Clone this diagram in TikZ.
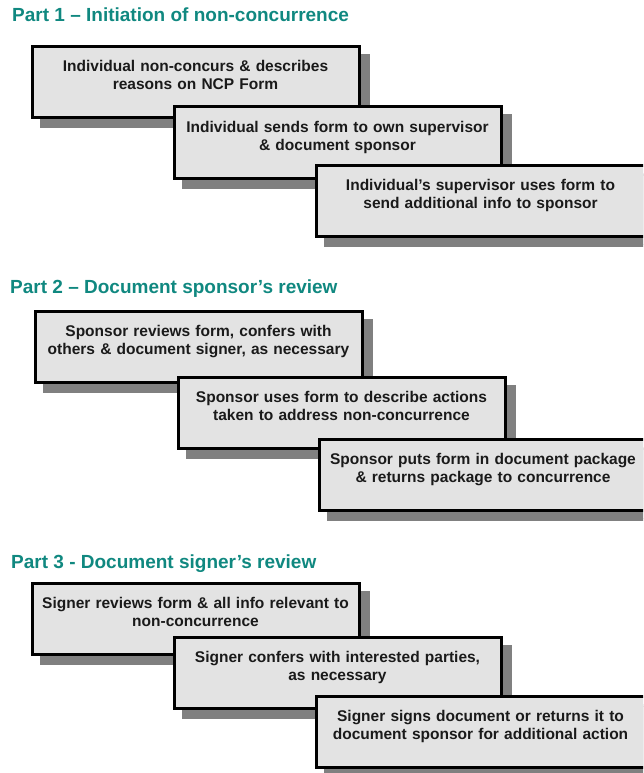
\documentclass[tikz,border=0pt]{standalone}
\usepackage{fontspec}
\setmainfont{Liberation Sans}
\usetikzlibrary{shadows}
\definecolor{teal1}{RGB}{16,136,128}
\definecolor{boxfill}{RGB}{227,227,227}
\definecolor{shadowgray}{RGB}{128,128,128}
\definecolor{txt}{RGB}{26,26,26}
\tikzset{
  stepbox/.style={draw=black, line width=3pt, fill=boxfill, rectangle, inner sep=0pt,
    anchor=north west, minimum width=327pt, minimum height=71pt,
    general shadow={shadow xshift=9pt, shadow yshift=-9pt, fill=shadowgray, draw=shadowgray, line width=3pt}},
  lbl/.style={anchor=base, text width=322pt, align=center, inner sep=0pt, text=txt,
    font=\bfseries\fontsize{15.5}{18}\selectfont},
  parttitle/.style={anchor=base west, inner sep=0pt, text=teal1,
    font=\bfseries\fontsize{19}{22}\selectfont}
}
\begin{document}
\begin{tikzpicture}[x=1pt,y=-1pt]
\path[clip] (0,0) rectangle (643,773);
\useasboundingbox (0,0) rectangle (643,773);

% Part 1
\node[parttitle] (t1) at (12,22) {Part 1 – Initiation of non-concurrence};
\node[stepbox] (p1a) at (30.5,45.5) {};
\node[lbl] (p1at) at ([yshift=-26.5pt]p1a.north) {Individual non-concurs \& describes\\reasons on NCP Form};
\node[stepbox] (p1b) at (172.5,105.5) {};
\node[lbl] (p1bt) at ([yshift=-26.5pt]p1b.north) {Individual sends form to own supervisor\\\& document sponsor};
\node[stepbox, minimum width=329pt] (p1c) at (314.5,163.5) {};
\node[lbl] (p1ct) at ([yshift=-26.5pt]p1c.north) {Individual’s supervisor uses form to\\send additional info to sponsor};

% Part 2
\node[parttitle] (t2) at (10,293) {Part 2 – Document sponsor’s review};
\node[stepbox] (p2a) at (33.5,309.5) {};
\node[lbl] (p2at) at ([yshift=-26.5pt]p2a.north) {Sponsor reviews form, confers with\\others \& document signer, as necessary};
\node[stepbox] (p2b) at (176.5,375.5) {};
\node[lbl] (p2bt) at ([yshift=-26.5pt]p2b.north) {Sponsor uses form to describe actions\\taken to address non-concurrence};
\node[stepbox, minimum width=328pt] (p2c) at (317.5,437.5) {};
\node[lbl] (p2ct) at ([yshift=-26.5pt]p2c.north) {Sponsor puts form in document package\\\& returns package to concurrence};

% Part 3
\node[parttitle] (t3) at (11,568) {Part 3 - Document signer’s review};
\node[stepbox] (p3a) at (30.5,582) {};
\node[lbl] (p3at) at ([yshift=-26.5pt]p3a.north) {Signer reviews form \& all info relevant to\\non-concurrence};
\node[stepbox] (p3b) at (172.5,636) {};
\node[lbl] (p3bt) at ([yshift=-26.5pt]p3b.north) {Signer confers with interested parties,\\as necessary};
\node[stepbox, minimum width=329pt] (p3c) at (314.5,695) {};
\node[lbl] (p3ct) at ([yshift=-26.5pt]p3c.north) {Signer signs document or returns it to\\document sponsor for additional action};
\end{tikzpicture}
\end{document}
